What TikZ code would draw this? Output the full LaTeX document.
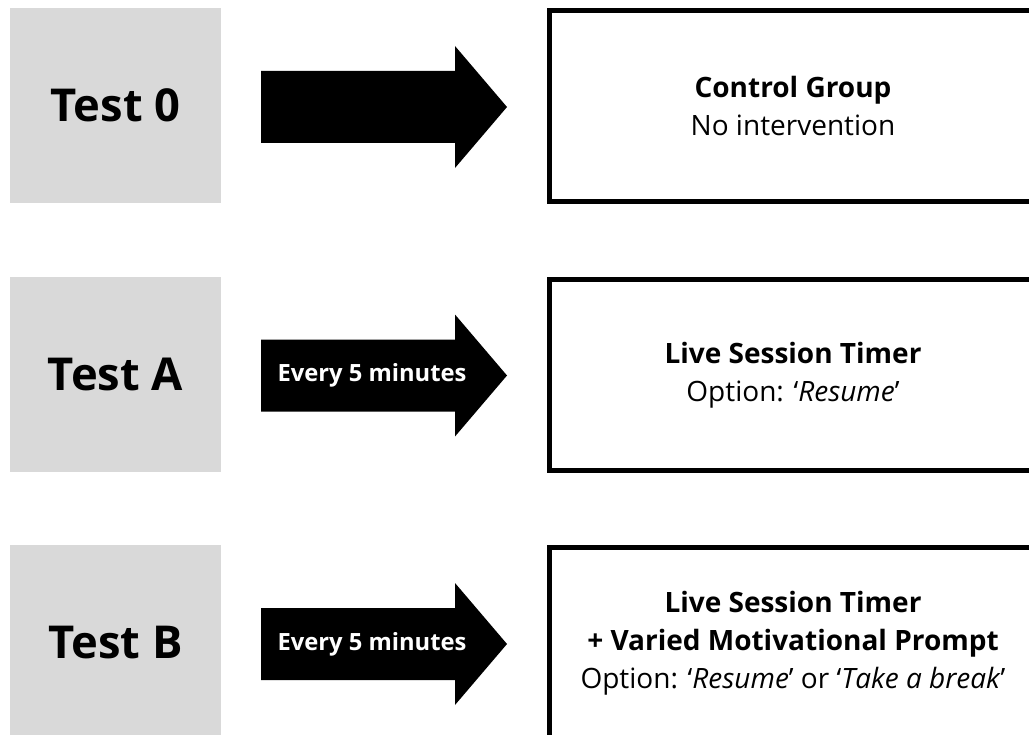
\documentclass[tikz,border=0pt]{standalone}
\usepackage{fontspec}
\setmainfont{Open Sans}
\definecolor{boxgrey}{HTML}{D9D9D9}

\begin{document}
\begin{tikzpicture}[x=0.75pt,y=-0.75pt]
\tikzstyle{testbox}=[fill=boxgrey, inner sep=0pt, minimum width=158.25pt, minimum height=146.25pt, font=\bfseries\fontsize{34}{38}\selectfont]
\tikzstyle{groupbox}=[draw=black, line width=3.75pt, inner sep=0pt, minimum width=365.25pt, minimum height=142.9pt, align=center, font=\fontsize{21}{28.5}\selectfont]
\tikzstyle{arrowtext}=[text=white, inner sep=0pt, font=\bfseries\fontsize{17.8}{20}\selectfont]
\useasboundingbox (0,0) rectangle (1029,735);
\clip (0,0) rectangle (1029,735);
% row 0
\node [testbox] (test0) at (115.5,105.5) {Test 0};
\fill [black] (261,71) -- (455,71) -- (455,46) -- (507,107) -- (455,168) -- (455,143) -- (261,143) -- cycle;
\node [groupbox] (group0) at (793,106.25) {\textbf{Control Group}\\No intervention};
% row A
\node [testbox] (testA) at (115.5,374) {Test A};
\fill [black] (261,339.5) -- (455,339.5) -- (455,314.5) -- (507,375.5) -- (455,436.5) -- (455,411.5) -- (261,411.5) -- cycle;
\node [arrowtext] (everyA) at (372,375.5) {Every 5 minutes};
\node [groupbox] (groupA) at (793,374.75) {\textbf{Live Session Timer}\\Option: ‘\textit{Resume}’};
% row B
\node [testbox] (testB) at (115.5,642.5) {Test B};
\fill [black] (261,608) -- (455,608) -- (455,583) -- (507,644) -- (455,705) -- (455,680) -- (261,680) -- cycle;
\node [arrowtext] (everyB) at (372,644) {Every 5 minutes};
\node [groupbox] (groupB) at (793,643.25) {\textbf{Live Session Timer}\\\textbf{+ Varied Motivational Prompt}\\Option: ‘\textit{Resume}’ or ‘\textit{Take a break}’};
\end{tikzpicture}
\end{document}
